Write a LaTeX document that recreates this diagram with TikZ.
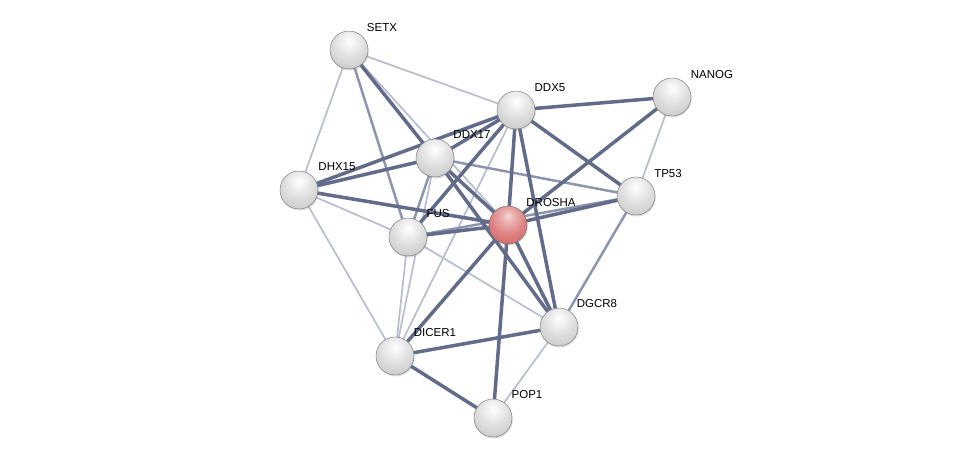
\documentclass[tikz,border=0pt]{standalone}
\usepackage{fontspec}
\setmainfont{Liberation Sans}
\usetikzlibrary{shadows}
\pgfdeclarelayer{bg}
\pgfsetlayers{bg,main}
\definecolor{edark}{RGB}{98,107,138}
\definecolor{emid}{RGB}{142,150,174}
\definecolor{elight}{RGB}{184,190,208}
\definecolor{rbody}{RGB}{214,98,98}
\pgfdeclareradialshading{graysphere}{\pgfpoint{0bp}{12bp}}{%
  color(0bp)=(white); color(8bp)=(white!95!black); color(22bp)=(white!86!black);
  color(38bp)=(white!78!black); color(48bp)=(white!70!black); color(55bp)=(white!55!black);
  color(62bp)=(white!40!black); color(100bp)=(white!40!black)}
\pgfdeclareradialshading{redsphere}{\pgfpoint{0bp}{12bp}}{%
  color(0bp)=(rbody!25!white); color(8bp)=(rbody!50!white); color(22bp)=(rbody!80!white);
  color(38bp)=(rbody); color(48bp)=(rbody!90!black); color(55bp)=(rbody!70!black);
  color(62bp)=(rbody!50!black); color(100bp)=(rbody!50!black)}
\tikzset{
  ball/.style={circle, minimum size=38pt, inner sep=0pt, draw=black!50, line width=0.5pt,
    shading=graysphere, drop shadow={shadow xshift=0.8pt, shadow yshift=-1.5pt, opacity=0.25}},
  redball/.style={ball, shading=redsphere, draw=black!55},
  lbl/.style={font=\fontsize{11.5}{13}\selectfont, text=black, inner sep=0pt},
  thick edge/.style={draw=edark, line width=3.5pt},
  mid edge/.style={draw=emid, line width=2.5pt},
  light edge/.style={draw=elight, line width=1.7pt}
}
\begin{document}
\begin{tikzpicture}[x=1pt,y=-1pt]
\useasboundingbox (0,0) rectangle (976,463);
% nodes
\node[ball] (setx) at (349,50) {};
\node[ball] (ddx5) at (516,110) {};
\node[ball] (nanog) at (672,97) {};
\node[ball] (ddx17) at (435,158) {};
\node[ball] (dhx15) at (299,190) {};
\node[ball] (tp53) at (636,196) {};
\node[ball] (fus) at (408,237) {};
\node[redball] (drosha) at (508,225) {};
\node[ball] (dgcr8) at (559,327) {};
\node[ball] (dicer1) at (395,356) {};
\node[ball] (pop1) at (493,418) {};
% labels
\node[lbl] (lsetx) at (382,28) {SETX};
\node[lbl] (lddx5) at (550,88) {DDX5};
\node[lbl] (lnanog) at (712,75) {NANOG};
\node[lbl] (lddx17) at (472,135) {DDX17};
\node[lbl] (ldhx15) at (337,167) {DHX15};
\node[lbl] (ltp53) at (668,174) {TP53};
\node[lbl] (lfus) at (438,214) {FUS};
\node[lbl] (ldrosha) at (551,203) {DROSHA};
\node[lbl] (ldgcr8) at (597,304) {DGCR8};
\node[lbl] (ldicer1) at (435,333) {DICER1};
\node[lbl] (lpop1) at (527,395) {POP1};
% edges
\begin{pgfonlayer}{bg}
% light
\draw[light edge] (setx.center) -- (ddx5.center);
\draw[light edge] (setx.center) -- (dhx15.center);
\draw[light edge] (setx.center) -- (drosha.center);
\draw[light edge] (dhx15.center) -- (fus.center);
\draw[light edge] (dhx15.center) -- (dicer1.center);
\draw[light edge] (fus.center) -- (dgcr8.center);
\draw[light edge] (fus.center) -- (dicer1.center);
\draw[light edge] (ddx17.center) -- (dicer1.center);
\draw[light edge] (ddx5.center) -- (dicer1.center);
\draw[light edge] (nanog.center) -- (tp53.center);
\draw[light edge] (dgcr8.center) -- (pop1.center);
% mid
\draw[mid edge] (setx.center) -- (fus.center);
\draw[mid edge] (tp53.center) -- (dgcr8.center);
\draw[mid edge] (ddx17.center) -- (tp53.center);
\draw[mid edge] (ddx17.center) -- (fus.center);
\draw[mid edge] (tp53.center) -- (fus.center);
% thick
\draw[thick edge] (setx.center) -- (ddx17.center);
\draw[thick edge] (dhx15.center) -- (ddx5.center);
\draw[thick edge] (dhx15.center) -- (ddx17.center);
\draw[thick edge] (dhx15.center) -- (drosha.center);
\draw[thick edge] (ddx17.center) -- (ddx5.center);
\draw[thick edge] (ddx17.center) -- (drosha.center);
\draw[thick edge] (ddx17.center) -- (dgcr8.center);
\draw[thick edge] (ddx5.center) -- (nanog.center);
\draw[thick edge] (ddx5.center) -- (tp53.center);
\draw[thick edge] (ddx5.center) -- (drosha.center);
\draw[thick edge] (ddx5.center) -- (dgcr8.center);
\draw[thick edge] (ddx5.center) -- (fus.center);
\draw[thick edge] (nanog.center) -- (drosha.center);
\draw[thick edge] (tp53.center) -- (drosha.center);
\draw[thick edge] (fus.center) -- (drosha.center);
\draw[thick edge] (drosha.center) -- (dgcr8.center);
\draw[thick edge] (drosha.center) -- (pop1.center);
\draw[thick edge] (drosha.center) -- (dicer1.center);
\draw[thick edge] (dgcr8.center) -- (dicer1.center);
\draw[thick edge] (dicer1.center) -- (pop1.center);
\end{pgfonlayer}
\end{tikzpicture}
\end{document}
